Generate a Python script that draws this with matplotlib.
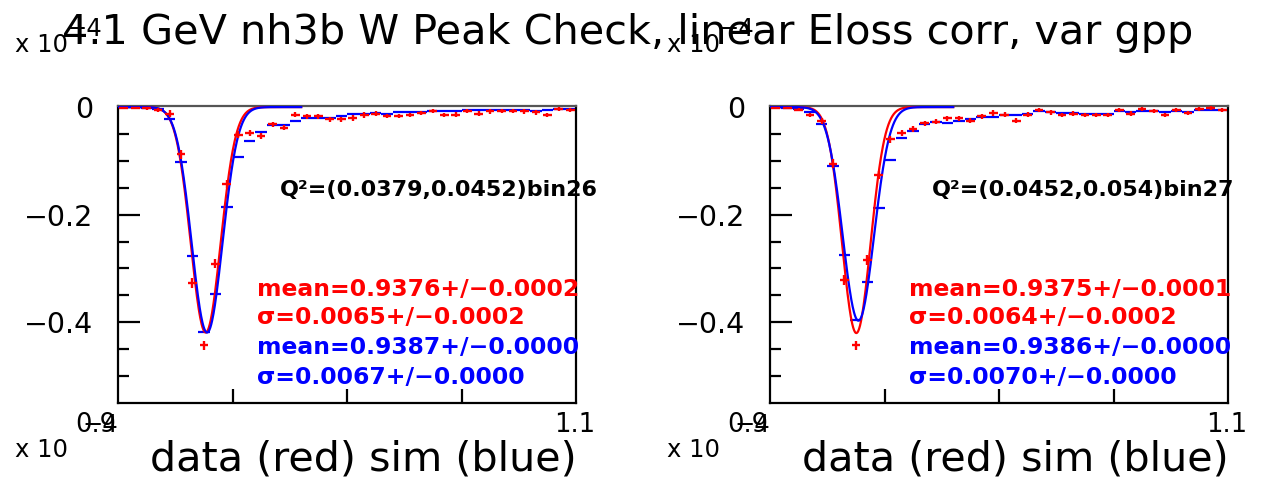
import numpy as np
import matplotlib
matplotlib.use('Agg')
import matplotlib.pyplot as plt

plt.rcParams['font.family'] = ['DejaVu Sans']

W, H = 1263, 487

# bin centres of the W histograms (bin width 0.005)
bin_centers = [0.9025, 0.9075, 0.9125, 0.9175, 0.9225, 0.9275, 0.9325, 0.9375, 0.9425, 0.9475,
               0.9525, 0.9575, 0.9625, 0.9675, 0.9725, 0.9775, 0.9825, 0.9875, 0.9925, 0.9975,
               1.0025, 1.0075, 1.0125, 1.0175, 1.0225, 1.0275, 1.0325, 1.0375, 1.0425, 1.0475,
               1.0525, 1.0575, 1.0625, 1.0675, 1.0725, 1.0775, 1.0825, 1.0875, 1.0925, 1.0975]

# bin 26 (left panel)
data_26 = [-0.001, -0.001, -0.002, -0.006, -0.012, -0.088, -0.327, -0.443, -0.291, -0.143,
           -0.051, -0.048, -0.054, -0.032, -0.038, -0.014, -0.017, -0.017, -0.023, -0.023,
           -0.020, -0.015, -0.012, -0.017, -0.017, -0.015, -0.011, -0.007, -0.015, -0.014,
           -0.007, -0.012, -0.008, -0.007, -0.007, -0.008, -0.010, -0.015, -0.003, -0.005]
sim_26 = [0.000, 0.000, -0.001, -0.004, -0.023, -0.103, -0.276, -0.418, -0.347, -0.185,
          -0.093, -0.063, -0.046, -0.033, -0.034, -0.026, -0.021, -0.020, -0.020, -0.017,
          -0.012, -0.012, -0.011, -0.012, -0.010, -0.010, -0.009, -0.008, -0.007, -0.007,
          -0.006, -0.006, -0.006, -0.006, -0.006, -0.006, -0.007, -0.006, -0.004, -0.004]
err_26 = [0.002, 0.002, 0.003, 0.004, 0.006, 0.008, 0.009, 0.009, 0.009, 0.008,
          0.006, 0.006, 0.006, 0.005, 0.005, 0.005, 0.005, 0.005, 0.005, 0.005,
          0.005, 0.005, 0.004, 0.004, 0.004, 0.004, 0.004, 0.004, 0.004, 0.004,
          0.004, 0.004, 0.004, 0.004, 0.004, 0.004, 0.004, 0.004, 0.004, 0.004]

# bin 27 (right panel)
data_27 = [-0.001, -0.002, -0.005, -0.015, -0.026, -0.105, -0.322, -0.443, -0.284, -0.126,
           -0.060, -0.048, -0.041, -0.030, -0.027, -0.021, -0.021, -0.025, -0.017, -0.011,
           -0.014, -0.025, -0.014, -0.006, -0.010, -0.015, -0.012, -0.015, -0.015, -0.015,
           -0.006, -0.012, -0.004, -0.007, -0.015, -0.006, -0.011, -0.004, -0.002, -0.006]
sim_27 = [0.000, -0.001, -0.003, -0.010, -0.031, -0.109, -0.275, -0.396, -0.325, -0.188,
          -0.099, -0.058, -0.045, -0.032, -0.028, -0.030, -0.025, -0.023, -0.019, -0.018,
          -0.015, -0.014, -0.012, -0.007, -0.009, -0.011, -0.011, -0.012, -0.012, -0.012,
          -0.007, -0.009, -0.007, -0.007, -0.009, -0.007, -0.009, -0.006, -0.006, -0.006]
err_27 = err_26

# gaussian fits as drawn: (amplitude, mean, sigma)
fit_data = [(-0.419, 0.9383, 0.0065), (-0.420, 0.9377, 0.0062)]
fit_sim = [(-0.419, 0.9389, 0.0067), (-0.397, 0.9386, 0.0068)]

q2_labels = ['Q²=(0.0379,0.0452)bin26', 'Q²=(0.0452,0.054)bin27']
fit_labels = [
    ['mean=0.9376+/−0.0002', 'σ=0.0065+/−0.0002', 'mean=0.9387+/−0.0000', 'σ=0.0067+/−0.0000'],
    ['mean=0.9375+/−0.0001', 'σ=0.0064+/−0.0002', 'mean=0.9386+/−0.0000', 'σ=0.0070+/−0.0000'],
]

title = '4.1 GeV nh3b W Peak Check, linear Eloss corr, var gpp'

fig = plt.figure(figsize=(W / 100, H / 100), dpi=100)


def fx(px):
    return px / W


def fy(py):
    return 1 - py / H


def draw_panel(x0, data, sim, err, fd, fs, q2, labels):
    ax = fig.add_axes([fx(x0), fy(403), fx(458), 297 / H])
    xs = np.linspace(0.9, 0.98, 400)
    for (a, m, s), col in [(fd, 'red'), (fs, 'blue')]:
        ax.plot(xs, a * np.exp(-0.5 * ((xs - m) / s) ** 2), color=col, lw=1.6, zorder=3)
    ax.errorbar(bin_centers, sim, xerr=0.0025, fmt='none', ecolor='blue', elinewidth=1.6, zorder=2)
    ax.errorbar(bin_centers, data, xerr=0.0019, yerr=err, fmt='none', ecolor='red',
                elinewidth=1.7, zorder=4)
    ax.set_xlim(0.9, 1.1)
    ax.set_ylim(-0.55, 0.002)
    for sp in ax.spines.values():
        sp.set_linewidth(1.6)
    ax.spines['top'].set_color('#555555')
    ax.set_xticks([0.95, 1.0, 1.05])
    ax.set_xticklabels([])
    ax.set_yticks([0, -0.2, -0.4])
    ax.set_yticklabels(['0', '−0.2', '−0.4'], fontsize=20.5)
    ax.set_yticks([-0.05, -0.1, -0.15, -0.25, -0.3, -0.35, -0.45, -0.5], minor=True)
    ax.tick_params(axis='y', which='major', direction='in', length=16, width=1.6, pad=18)
    ax.tick_params(axis='y', which='minor', direction='in', length=8, width=1.6)
    ax.tick_params(axis='x', which='major', direction='in', length=10, width=1.6)
    fig.text(fx(x0 + 162), fy(190), q2, fontsize=16, fontweight='bold', va='center')
    cols = ['red', 'red', 'blue', 'blue']
    for lab, col, yy in zip(labels, cols, [290, 318, 347, 377]):
        fig.text(fx(x0 + 139), fy(yy), lab, fontsize=16.9, fontweight='bold', color=col, va='center')
    # ROOT style exponent and x labels
    fig.text(fx(x0 - 103), fy(45), 'x 10', fontsize=17.5, va='center')
    fig.text(fx(x0 - 52), fy(29), '−4', fontsize=17.5, va='center')
    fig.text(fx(x0 - 103), fy(450), 'x 10', fontsize=17.5, va='center')
    fig.text(fx(x0 - 36), fy(425), '−4', fontsize=17.5, va='center')
    fig.text(fx(x0 - 22), fy(425), '0.9', fontsize=18.5, va='center', ha='center')
    fig.text(fx(x0 + 457), fy(425), '1.1', fontsize=18.5, va='center', ha='center')
    fig.text(fx(x0 + 245), fy(460), 'data (red) sim (blue)', fontsize=29.7, va='center', ha='center')
    return ax


draw_panel(118, data_26, sim_26, err_26, fit_data[0], fit_sim[0], q2_labels[0], fit_labels[0])
draw_panel(770, data_27, sim_27, err_27, fit_data[1], fit_sim[1], q2_labels[1], fit_labels[1])

fig.text(fx(62), fy(33), title, fontsize=29.8, va='center', ha='left')

fig.savefig('out.png', dpi=100)
